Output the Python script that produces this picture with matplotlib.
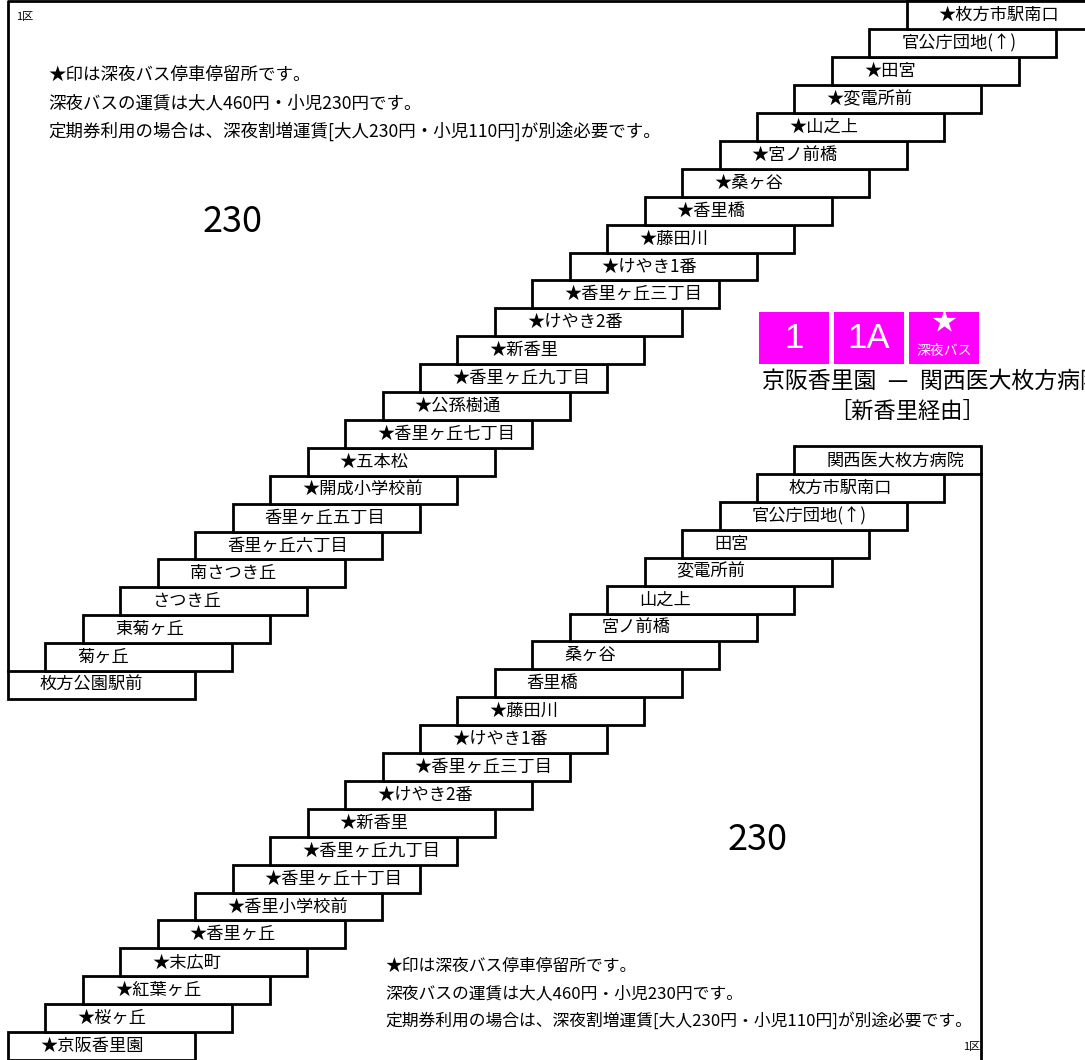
import numpy as np
import matplotlib.pyplot as plt

plt.rcParams['font.family'] = ['Noto Sans CJK JP', 'DejaVu Sans']

# stops, listed from the bottom step upward
upper_stops = ['枚方公園駅前', '菊ヶ丘', '東菊ヶ丘', 'さつき丘', '南さつき丘',
               '香里ヶ丘六丁目', '香里ヶ丘五丁目', '★開成小学校前', '★五本松',
               '★香里ヶ丘七丁目', '★公孫樹通', '★香里ヶ丘九丁目', '★新香里',
               '★けやき2番', '★香里ヶ丘三丁目', '★けやき1番', '★藤田川',
               '★香里橋', '★桑ヶ谷', '★宮ノ前橋', '★山之上', '★変電所前',
               '★田宮', '官公庁団地(↑)', '★枚方市駅南口']
lower_stops = ['★京阪香里園', '★桜ヶ丘', '★紅葉ヶ丘', '★末広町', '★香里ヶ丘',
               '★香里小学校前', '★香里ヶ丘十丁目', '★香里ヶ丘九丁目', '★新香里',
               '★けやき2番', '★香里ヶ丘三丁目', '★けやき1番', '★藤田川',
               '香里橋', '桑ヶ谷', '宮ノ前橋', '山之上', '変電所前', '田宮',
               '官公庁団地(↑)', '枚方市駅南口', '関西医大枚方病院']
fare = '230'
zone = '1区'
routes = ['1', '1A', '★']
notes = ['★印は深夜バス停車停留所です。',
         '深夜バスの運賃は大人460円・小児230円です。',
         '定期券利用の場合は、深夜割増運賃[大人230円・小児110円]が別途必要です。']
title = '京阪香里園\u2002—\u2002関西医大枚方病院'
subtitle = '［新香里経由］'

W, H = 1085, 1060
fig = plt.figure(figsize=(W / 100, H / 100), dpi=100)
ax = fig.add_axes([0, 0, 1, 1])
ax.set_xlim(0, W)
ax.set_ylim(H, 0)
ax.axis('off')

sx, sy = 37.45, 27.9
bw = 187
lw = 2.0


def stairs(stops, x0, y0):
    i = np.arange(len(stops))
    left = x0 + i * sx
    top = y0 - i * sy
    ax.barh(top + sy / 2, bw, left=left, height=sy, color='white',
            edgecolor='black', linewidth=lw, zorder=2)
    for l, t, s in zip(left, top, stops):
        ax.text(l + 32, t + sy / 2, s, fontsize=12.4, ha='left', va='center', zorder=3)
    return left, top


# upper table
ul, ut = stairs(upper_stops, 8, 671)
ax.plot([8, 8, W], [ut[0], ut[-1], ut[-1]], color='black', lw=lw, zorder=1)
ax.text(233, 222, fare, fontsize=26, ha='center', va='center')
ax.text(25, 17, zone, fontsize=8, ha='center', va='center')
for k, n in enumerate(notes):
    ax.text(48, 75 + k * 28, n, fontsize=12.6, ha='left', va='center')

# lower table
ll, lt = stairs(lower_stops, 8, 1032)
rx = ll[-1] + bw
ax.plot([rx, rx], [lt[-1] + sy, H + 5], color='black', lw=lw, zorder=1)
ax.text(758, 840, fare, fontsize=26, ha='center', va='center')
ax.text(972, 1047, zone, fontsize=8, ha='center', va='center')
for k, n in enumerate(notes):
    ax.text(385, 966 + k * 27.5, n, fontsize=12.1, ha='left', va='center')

# route badges
bx = 759 + np.arange(len(routes)) * 75
ax.bar(bx, 52, width=70, bottom=312, align='edge', color='#ff00ff', zorder=2)
for x, r in zip(bx[:2], routes[:2]):
    ax.text(x + 35, 339, r, fontsize=25, color='white', ha='center', va='center',
            family='Liberation Sans', zorder=3)
ax.text(bx[2] + 35, 323, routes[2], fontsize=18, color='white', ha='center', va='center', zorder=3)
ax.text(bx[2] + 35, 351, '深夜バス', fontsize=10, color='white', ha='center', va='center', zorder=3)

# title runs off the right edge, as in the original
ax.text(762, 381, title, fontsize=16.5, ha='left', va='center')
ax.text(907, 411, subtitle, fontsize=16, ha='center', va='center')

fig.savefig('out.png', dpi=100)
